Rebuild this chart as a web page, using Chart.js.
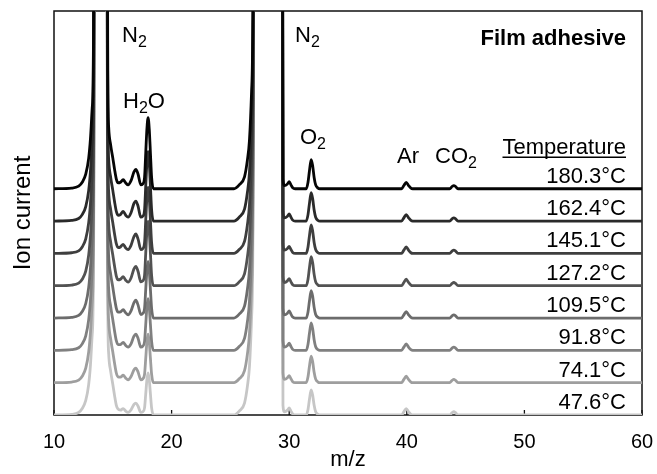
<!DOCTYPE html>
<html><head><meta charset="utf-8">
<script src="https://cdn.jsdelivr.net/npm/chart.js@4.4.1/dist/chart.umd.min.js"></script>
<style>html,body{margin:0;padding:0;background:#fff;}canvas{display:block;}</style>
</head><body>
<canvas id="c" width="657" height="474"></canvas>
<script>
// m/z sampling positions (shared by all traces)
const mz = [
  10, 11.5, 12.1, 12.4, 12.7, 12.95, 13.1, 13.25, 13.38, 13.5, 14.0, 14.45,
  14.52, 14.58, 14.65, 14.82, 15.0, 15.15, 15.3, 15.45,
  15.65, 15.88, 16.1, 16.3, 16.55, 16.8, 16.96, 17.15, 17.38, 17.55,
  17.7, 17.8, 17.9, 18.0, 18.1, 18.2, 18.3, 18.45, 19,
  25.3, 25.75, 26.2, 26.45, 26.62, 26.8, 26.95, 27.1, 28.2, 29.3, 29.4, 29.47,
  29.6, 29.85, 30.0, 30.15, 30.3, 30.5,
  31.45, 31.6, 31.72, 31.87, 32.0, 32.12, 32.25, 32.45, 32.6,
  39.55, 39.75, 39.95, 40.15, 40.35, 40.5,
  43.65, 43.85, 44.0, 44.15, 44.35, 60
];

const temperatures = ['180.3°C', '162.4°C', '145.1°C', '127.2°C', '109.5°C', '91.8°C', '74.1°C', '47.6°C'];

// ion current (arbitrary units, relative to each trace's own baseline)
const ion180_3 = [
  0, 0.02, 0.08, 0.2, 0.45, 0.95, 1.55, 2.5, 6, 60, 60, 60,
  12, 3.2, 1.9, 1.35, 0.95, 0.6, 0.3, 0.18,
  0.2, 0.28, 0.18, 0.12, 0.25, 0.52, 0.6, 0.45, 0.12, 0.15,
  0.35, 1.1, 1.85, 2.2, 1.85, 1.1, 0.35, 0, 0,
  0, 0.12, 0.37, 0.9, 1.5, 3, 8, 60, 60, 60, 20, 0.3,
  0.1, 0.15, 0.22, 0.12, 0.03, 0,
  0, 0.2, 0.55, 0.9, 0.7, 0.35, 0.12, 0.02, 0,
  0, 0.1, 0.2, 0.1, 0.02, 0,
  0, 0.07, 0.1, 0.07, 0, 0
];
const ion162_4 = [
  0, 0.02, 0.08, 0.2, 0.45, 0.95, 1.55, 2.5, 6, 60, 60, 60,
  12, 3.2, 1.9, 1.35, 0.95, 0.6, 0.3, 0.18,
  0.2, 0.3, 0.18, 0.12, 0.26, 0.55, 0.62, 0.46, 0.12, 0.15,
  0.35, 1.08, 1.8, 2.15, 1.8, 1.08, 0.35, 0, 0,
  0, 0.12, 0.37, 0.9, 1.5, 3, 8, 60, 60, 60, 20, 0.3,
  0.1, 0.15, 0.22, 0.12, 0.03, 0,
  0, 0.2, 0.54, 0.88, 0.68, 0.34, 0.12, 0.02, 0,
  0, 0.1, 0.2, 0.1, 0.02, 0,
  0, 0.07, 0.1, 0.07, 0, 0
];
const ion145_1 = [
  0, 0.02, 0.08, 0.2, 0.45, 0.95, 1.55, 2.5, 6, 60, 60, 60,
  12, 3.2, 1.9, 1.35, 0.95, 0.6, 0.3, 0.18,
  0.2, 0.28, 0.17, 0.12, 0.25, 0.52, 0.6, 0.44, 0.12, 0.15,
  0.33, 1.02, 1.72, 2.05, 1.72, 1.02, 0.33, 0, 0,
  0, 0.12, 0.37, 0.9, 1.5, 3, 8, 60, 60, 60, 20, 0.3,
  0.1, 0.15, 0.22, 0.12, 0.03, 0,
  0, 0.2, 0.54, 0.88, 0.68, 0.34, 0.12, 0.02, 0,
  0, 0.1, 0.2, 0.1, 0.02, 0,
  0, 0.07, 0.1, 0.07, 0, 0
];
const ion127_2 = [
  0, 0.02, 0.08, 0.2, 0.45, 0.95, 1.55, 2.5, 6, 60, 60, 60,
  12, 3.2, 1.9, 1.35, 0.95, 0.6, 0.3, 0.18,
  0.2, 0.28, 0.17, 0.11, 0.24, 0.52, 0.6, 0.44, 0.12, 0.15,
  0.32, 1.0, 1.68, 2.0, 1.68, 1.0, 0.32, 0, 0,
  0, 0.12, 0.37, 0.9, 1.5, 3, 8, 60, 60, 60, 20, 0.3,
  0.1, 0.15, 0.22, 0.12, 0.03, 0,
  0, 0.2, 0.55, 0.9, 0.7, 0.35, 0.12, 0.02, 0,
  0, 0.1, 0.2, 0.1, 0.02, 0,
  0, 0.07, 0.1, 0.07, 0, 0
];
const ion109_5 = [
  0, 0.02, 0.08, 0.2, 0.45, 0.95, 1.55, 2.5, 6, 60, 60, 60,
  12, 3.2, 1.9, 1.35, 0.95, 0.6, 0.3, 0.18,
  0.19, 0.26, 0.16, 0.1, 0.22, 0.48, 0.55, 0.4, 0.11, 0.14,
  0.3, 0.88, 1.47, 1.75, 1.47, 0.88, 0.3, 0, 0,
  0, 0.12, 0.37, 0.9, 1.5, 3, 8, 60, 60, 60, 20, 0.3,
  0.1, 0.15, 0.22, 0.12, 0.03, 0,
  0, 0.19, 0.52, 0.85, 0.66, 0.33, 0.11, 0.02, 0,
  0, 0.1, 0.2, 0.1, 0.02, 0,
  0, 0.07, 0.1, 0.07, 0, 0
];
const ion91_8 = [
  0, 0.02, 0.08, 0.2, 0.45, 0.95, 1.55, 2.5, 6, 60, 60, 60,
  12, 3.2, 1.9, 1.35, 0.95, 0.6, 0.3, 0.18,
  0.18, 0.25, 0.15, 0.1, 0.2, 0.44, 0.5, 0.37, 0.1, 0.13,
  0.28, 0.8, 1.34, 1.6, 1.34, 0.8, 0.28, 0, 0,
  0, 0.12, 0.37, 0.9, 1.5, 3, 8, 60, 60, 60, 20, 0.3,
  0.1, 0.15, 0.22, 0.12, 0.03, 0,
  0, 0.19, 0.52, 0.85, 0.66, 0.33, 0.11, 0.02, 0,
  0, 0.1, 0.2, 0.1, 0.02, 0,
  0, 0.07, 0.1, 0.07, 0, 0
];
const ion74_1 = [
  0, 0.02, 0.08, 0.2, 0.45, 0.95, 1.55, 2.5, 6, 60, 60, 60,
  12, 3.2, 1.9, 1.35, 0.95, 0.6, 0.3, 0.18,
  0.17, 0.23, 0.14, 0.09, 0.19, 0.4, 0.45, 0.33, 0.09, 0.12,
  0.26, 0.75, 1.26, 1.5, 1.26, 0.75, 0.26, 0, 0,
  0, 0.12, 0.37, 0.9, 1.5, 3, 8, 60, 60, 60, 20, 0.3,
  0.1, 0.15, 0.22, 0.12, 0.03, 0,
  0, 0.18, 0.5, 0.82, 0.64, 0.32, 0.11, 0.02, 0,
  0, 0.1, 0.2, 0.1, 0.02, 0,
  0, 0.07, 0.1, 0.07, 0, 0
];
const ion47_6 = [
  0, 0.02, 0.08, 0.2, 0.45, 0.95, 1.55, 2.5, 6, 60, 60, 60,
  12, 3.2, 1.9, 1.35, 0.95, 0.6, 0.3, 0.18,
  0.15, 0.2, 0.12, 0.08, 0.16, 0.33, 0.37, 0.27, 0.08, 0.1,
  0.22, 0.65, 1.09, 1.3, 1.09, 0.65, 0.22, 0, 0,
  0, 0.12, 0.37, 0.9, 1.5, 3, 8, 60, 60, 60, 20, 0.3,
  0.1, 0.15, 0.22, 0.12, 0.03, 0,
  0, 0.17, 0.48, 0.78, 0.6, 0.3, 0.1, 0.02, 0,
  0, 0.1, 0.2, 0.1, 0.02, 0,
  0, 0.07, 0.1, 0.07, 0, 0
];

const xTicks = [10, 20, 30, 40, 50, 60];
const peakLabels = [['N', '2'], ['N', '2'], ['H', '2', 'O'], ['O', '2'], ['Ar'], ['CO', '2']];

const traces = [ion180_3, ion162_4, ion145_1, ion127_2, ion109_5, ion91_8, ion74_1, ion47_6];
const colors = ['#050505', '#2a2a2a', '#3e3e3e', '#525252', '#6c6c6c', '#808080', '#9e9e9e', '#c6c6c6'];

const FONT = '"Liberation Sans", Arial, sans-serif';

const datasets = traces.map((vals, i) => {
  const offset = traces.length - 1 - i; // waterfall stacking
  return {
    label: temperatures[i],
    data: mz.map((m, k) => ({x: m, y: vals[k] + offset})),
    borderColor: colors[i],
    borderWidth: 2.8,
    pointRadius: 0,
    fill: false,
    cubicInterpolationMode: 'monotone'
  };
});

function chem(ctx, parts, x, y) {
  let cx = x;
  parts.forEach(p => {
    const sub = /^\d+$/.test(p);
    ctx.font = (sub ? '16px ' : '22px ') + FONT;
    ctx.fillText(p, cx, sub ? y + 5 : y);
    cx += ctx.measureText(p).width;
  });
}

const decor = {
  id: 'decor',
  beforeDatasetsDraw(chart) {
    const {ctx, chartArea: a, scales: {x}} = chart;
    ctx.save();
    ctx.strokeStyle = '#111';
    ctx.lineWidth = 1.5;
    ctx.strokeRect(a.left, a.top, a.right - a.left, a.bottom - a.top);
    ctx.lineWidth = 1.3;
    xTicks.forEach(v => {
      const px = x.getPixelForValue(v);
      ctx.beginPath(); ctx.moveTo(px, a.bottom); ctx.lineTo(px, a.bottom - 5); ctx.stroke();
    });
    ctx.restore();
  },
  afterDatasetsDraw(chart) {
    const {ctx, scales: {y}} = chart;
    ctx.save();
    ctx.fillStyle = '#000';
    ctx.textBaseline = 'alphabetic';
    ctx.textAlign = 'left';
    const pos = [[122, 42], [295, 42], [123, 108], [300, 144], [397, 163], [435, 163]];
    peakLabels.forEach((p, i) => chem(ctx, p, pos[i][0], pos[i][1]));

    ctx.textAlign = 'right';
    ctx.font = 'bold 22px ' + FONT;
    ctx.fillText('Film adhesive', 626, 45);

    ctx.font = '22px ' + FONT;
    ctx.fillText('Temperature', 626, 154);
    const w = ctx.measureText('Temperature').width;
    ctx.fillRect(626 - w, 156.5, w, 1.5);

    temperatures.forEach((t, i) => {
      const offset = temperatures.length - 1 - i;
      ctx.fillText(t, 626, y.getPixelForValue(offset) - 6);
    });
    ctx.restore();
  }
};

new Chart(document.getElementById('c'), {
  type: 'line',
  data: {datasets},
  options: {
    responsive: false,
    animation: false,
    devicePixelRatio: 1,
    layout: {padding: {top: 11, right: 15, left: 0, bottom: 0}},
    plugins: {legend: {display: false}, tooltip: {enabled: false}},
    scales: {
      x: {
        type: 'linear', min: 10, max: 60,
        afterBuildTicks: s => { s.ticks = xTicks.map(v => ({value: v})); },
        ticks: {font: {family: FONT, size: 20}, color: '#000', padding: 15, maxRotation: 0},
        grid: {display: false, drawTicks: false},
        border: {display: false},
        title: {display: true, text: 'm/z', font: {family: FONT, size: 22}, color: '#000', padding: {top: 0, bottom: 1}},
        afterFit: s => { s.height = 59; s.paddingLeft = 0; s.paddingRight = 0; }
      },
      y: {
        min: 0, max: 12.5,
        ticks: {display: false},
        grid: {display: false, drawTicks: false},
        border: {display: false},
        title: {display: true, text: 'Ion current', font: {family: FONT, size: 24}, color: '#000', padding: {top: 9, bottom: 0}},
        afterFit: s => { s.width = 54; }
      }
    }
  },
  plugins: [decor]
});
</script>
</body></html>
